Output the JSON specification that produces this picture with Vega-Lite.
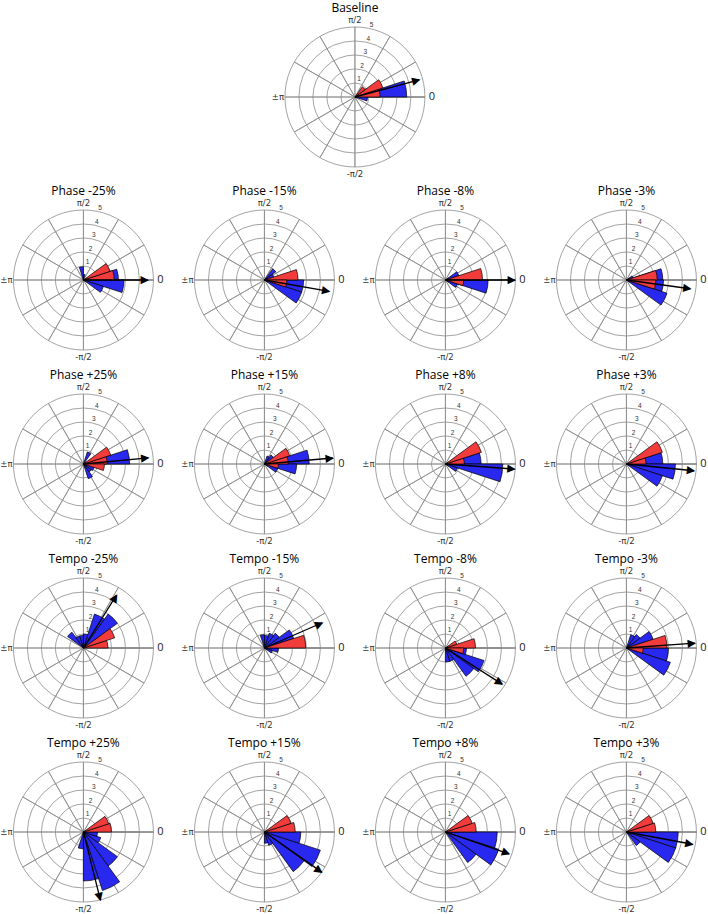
{
  "$schema": "https://vega.github.io/schema/vega-lite/v6.json",
  "background": "white",
  "padding": {"left": 0, "top": 2, "right": 0, "bottom": 0},
  "config": {"view": {"stroke": null}, "font": "Open Sans"},
  "datasets": {
    "grid": [{"k": 1}, {"k": 2}, {"k": 3}, {"k": 4}, {"k": 5}],
    "spokes": [{"ang": 0}, {"ang": 30}, {"ang": 60}, {"ang": 90}, {"ang": 120}, {"ang": 150}, {"ang": 180}, {"ang": 210}, {"ang": 240}, {"ang": 270}, {"ang": 300}, {"ang": 330}],
    "axlabels": [{"t": "0", "ang": 0}, {"t": "π/2", "ang": 90}, {"t": "±π", "ang": 180}, {"t": "-π/2", "ang": 270}],
    "main": [
      {"p": "Baseline", "k": "blue", "a": 0, "b": 18, "r": 3.7},
      {"p": "Baseline", "k": "blue", "a": 18, "b": 36, "r": 1.0},
      {"p": "Baseline", "k": "blue", "a": 342, "b": 360, "r": 0.9},
      {"p": "Baseline", "k": "red", "a": 0, "b": 18, "r": 1.8},
      {"p": "Baseline", "k": "red", "a": 18, "b": 36, "r": 2.1},
      {"p": "Baseline", "k": "red", "a": 36, "b": 54, "r": 0.9},
      {"p": "Baseline", "k": "arrow", "a": 15, "b": 15, "r": 4.75},

      {"p": "Phase -25%", "k": "blue", "a": 0, "b": 18, "r": 2.5},
      {"p": "Phase -25%", "k": "blue", "a": 342, "b": 360, "r": 2.9},
      {"p": "Phase -25%", "k": "blue", "a": 324, "b": 342, "r": 1.5},
      {"p": "Phase -25%", "k": "blue", "a": 90, "b": 108, "r": 0.95},
      {"p": "Phase -25%", "k": "blue", "a": 72, "b": 90, "r": 0.4},
      {"p": "Phase -25%", "k": "red", "a": 0, "b": 18, "r": 2.2},
      {"p": "Phase -25%", "k": "red", "a": 18, "b": 36, "r": 2.0},
      {"p": "Phase -25%", "k": "arrow", "a": 0, "b": 0, "r": 4.6},

      {"p": "Phase -15%", "k": "blue", "a": 342, "b": 360, "r": 2.8},
      {"p": "Phase -15%", "k": "blue", "a": 324, "b": 342, "r": 2.8},
      {"p": "Phase -15%", "k": "blue", "a": 36, "b": 54, "r": 1.0},
      {"p": "Phase -15%", "k": "blue", "a": 18, "b": 36, "r": 0.7},
      {"p": "Phase -15%", "k": "red", "a": 0, "b": 18, "r": 2.4},
      {"p": "Phase -15%", "k": "red", "a": 342, "b": 360, "r": 1.6},
      {"p": "Phase -15%", "k": "arrow", "a": -10, "b": -10, "r": 4.7},

      {"p": "Phase -8%", "k": "blue", "a": 342, "b": 360, "r": 3.05},
      {"p": "Phase -8%", "k": "blue", "a": 18, "b": 36, "r": 1.0},
      {"p": "Phase -8%", "k": "blue", "a": 324, "b": 342, "r": 0.9},
      {"p": "Phase -8%", "k": "red", "a": 0, "b": 18, "r": 2.65},
      {"p": "Phase -8%", "k": "red", "a": 342, "b": 360, "r": 1.3},
      {"p": "Phase -8%", "k": "arrow", "a": 0, "b": 0, "r": 4.95},

      {"p": "Phase -3%", "k": "blue", "a": 0, "b": 18, "r": 2.6},
      {"p": "Phase -3%", "k": "blue", "a": 342, "b": 360, "r": 2.65},
      {"p": "Phase -3%", "k": "blue", "a": 324, "b": 342, "r": 3.05},
      {"p": "Phase -3%", "k": "blue", "a": 18, "b": 36, "r": 0.5},
      {"p": "Phase -3%", "k": "red", "a": 0, "b": 18, "r": 2.2},
      {"p": "Phase -3%", "k": "red", "a": 342, "b": 360, "r": 2.1},
      {"p": "Phase -3%", "k": "arrow", "a": -7.8, "b": -7.8, "r": 4.6},

      {"p": "Phase +25%", "k": "blue", "a": 0, "b": 18, "r": 3.3},
      {"p": "Phase +25%", "k": "blue", "a": 54, "b": 72, "r": 0.9},
      {"p": "Phase +25%", "k": "blue", "a": 288, "b": 306, "r": 1.1},
      {"p": "Phase +25%", "k": "blue", "a": 306, "b": 324, "r": 0.7},
      {"p": "Phase +25%", "k": "blue", "a": 324, "b": 342, "r": 0.8},
      {"p": "Phase +25%", "k": "red", "a": 0, "b": 18, "r": 1.7},
      {"p": "Phase +25%", "k": "red", "a": 18, "b": 36, "r": 2.05},
      {"p": "Phase +25%", "k": "red", "a": 342, "b": 360, "r": 1.5},
      {"p": "Phase +25%", "k": "arrow", "a": 5.4, "b": 5.4, "r": 4.65},

      {"p": "Phase +15%", "k": "blue", "a": 0, "b": 18, "r": 3.2},
      {"p": "Phase +15%", "k": "blue", "a": 342, "b": 360, "r": 2.3},
      {"p": "Phase +15%", "k": "blue", "a": 324, "b": 342, "r": 1.0},
      {"p": "Phase +15%", "k": "blue", "a": 36, "b": 54, "r": 0.8},
      {"p": "Phase +15%", "k": "blue", "a": 54, "b": 72, "r": 0.6},
      {"p": "Phase +15%", "k": "red", "a": 0, "b": 18, "r": 1.7},
      {"p": "Phase +15%", "k": "red", "a": 18, "b": 36, "r": 1.9},
      {"p": "Phase +15%", "k": "red", "a": 342, "b": 360, "r": 1.0},
      {"p": "Phase +15%", "k": "arrow", "a": 5, "b": 5, "r": 4.9},

      {"p": "Phase +8%", "k": "blue", "a": 0, "b": 18, "r": 2.55},
      {"p": "Phase +8%", "k": "blue", "a": 342, "b": 360, "r": 4.1},
      {"p": "Phase +8%", "k": "blue", "a": 324, "b": 342, "r": 0.9},
      {"p": "Phase +8%", "k": "red", "a": 0, "b": 18, "r": 1.35},
      {"p": "Phase +8%", "k": "red", "a": 18, "b": 36, "r": 2.7},
      {"p": "Phase +8%", "k": "arrow", "a": -4.2, "b": -4.2, "r": 4.95},

      {"p": "Phase +3%", "k": "blue", "a": 0, "b": 18, "r": 2.6},
      {"p": "Phase +3%", "k": "blue", "a": 342, "b": 360, "r": 3.5},
      {"p": "Phase +3%", "k": "blue", "a": 324, "b": 342, "r": 2.7},
      {"p": "Phase +3%", "k": "red", "a": 0, "b": 18, "r": 1.4},
      {"p": "Phase +3%", "k": "red", "a": 18, "b": 36, "r": 2.7},
      {"p": "Phase +3%", "k": "arrow", "a": -5.7, "b": -5.7, "r": 4.85},

      {"p": "Tempo -25%", "k": "blue", "a": 18, "b": 36, "r": 1.5},
      {"p": "Tempo -25%", "k": "blue", "a": 36, "b": 54, "r": 3.0},
      {"p": "Tempo -25%", "k": "blue", "a": 54, "b": 72, "r": 2.55},
      {"p": "Tempo -25%", "k": "blue", "a": 72, "b": 90, "r": 1.0},
      {"p": "Tempo -25%", "k": "blue", "a": 90, "b": 108, "r": 0.9},
      {"p": "Tempo -25%", "k": "blue", "a": 108, "b": 126, "r": 0.9},
      {"p": "Tempo -25%", "k": "blue", "a": 126, "b": 144, "r": 1.4},
      {"p": "Tempo -25%", "k": "red", "a": 0, "b": 18, "r": 1.75},
      {"p": "Tempo -25%", "k": "red", "a": 18, "b": 36, "r": 2.35},
      {"p": "Tempo -25%", "k": "arrow", "a": 58, "b": 58, "r": 4.45},

      {"p": "Tempo -15%", "k": "blue", "a": 18, "b": 36, "r": 2.2},
      {"p": "Tempo -15%", "k": "blue", "a": 36, "b": 54, "r": 1.3},
      {"p": "Tempo -15%", "k": "blue", "a": 54, "b": 72, "r": 1.1},
      {"p": "Tempo -15%", "k": "blue", "a": 72, "b": 90, "r": 0.9},
      {"p": "Tempo -15%", "k": "blue", "a": 90, "b": 108, "r": 0.95},
      {"p": "Tempo -15%", "k": "blue", "a": 342, "b": 360, "r": 1.0},
      {"p": "Tempo -15%", "k": "blue", "a": 324, "b": 342, "r": 0.6},
      {"p": "Tempo -15%", "k": "red", "a": 0, "b": 18, "r": 2.95},
      {"p": "Tempo -15%", "k": "arrow", "a": 23.6, "b": 23.6, "r": 4.5},

      {"p": "Tempo -8%", "k": "blue", "a": 324, "b": 342, "r": 2.9},
      {"p": "Tempo -8%", "k": "blue", "a": 306, "b": 324, "r": 2.5},
      {"p": "Tempo -8%", "k": "blue", "a": 288, "b": 306, "r": 1.0},
      {"p": "Tempo -8%", "k": "blue", "a": 270, "b": 288, "r": 1.0},
      {"p": "Tempo -8%", "k": "blue", "a": 342, "b": 360, "r": 1.5},
      {"p": "Tempo -8%", "k": "red", "a": 0, "b": 18, "r": 2.15},
      {"p": "Tempo -8%", "k": "red", "a": 18, "b": 36, "r": 0.85},
      {"p": "Tempo -8%", "k": "red", "a": 342, "b": 360, "r": 1.3},
      {"p": "Tempo -8%", "k": "arrow", "a": -32.5, "b": -32.5, "r": 4.8},

      {"p": "Tempo -3%", "k": "blue", "a": 18, "b": 36, "r": 2.0},
      {"p": "Tempo -3%", "k": "blue", "a": 36, "b": 54, "r": 1.2},
      {"p": "Tempo -3%", "k": "blue", "a": 54, "b": 72, "r": 1.0},
      {"p": "Tempo -3%", "k": "blue", "a": 342, "b": 360, "r": 3.0},
      {"p": "Tempo -3%", "k": "blue", "a": 324, "b": 342, "r": 3.3},
      {"p": "Tempo -3%", "k": "red", "a": 0, "b": 18, "r": 2.9},
      {"p": "Tempo -3%", "k": "red", "a": 342, "b": 360, "r": 1.2},
      {"p": "Tempo -3%", "k": "arrow", "a": 4, "b": 4, "r": 4.9},

      {"p": "Tempo +25%", "k": "blue", "a": 306, "b": 324, "r": 3.0},
      {"p": "Tempo +25%", "k": "blue", "a": 288, "b": 306, "r": 4.4},
      {"p": "Tempo +25%", "k": "blue", "a": 270, "b": 288, "r": 3.5},
      {"p": "Tempo +25%", "k": "blue", "a": 252, "b": 270, "r": 1.2},
      {"p": "Tempo +25%", "k": "blue", "a": 324, "b": 342, "r": 1.3},
      {"p": "Tempo +25%", "k": "blue", "a": 342, "b": 360, "r": 1.0},
      {"p": "Tempo +25%", "k": "red", "a": 0, "b": 18, "r": 2.0},
      {"p": "Tempo +25%", "k": "red", "a": 18, "b": 36, "r": 1.9},
      {"p": "Tempo +25%", "k": "arrow", "a": -76, "b": -76, "r": 5.0},

      {"p": "Tempo +15%", "k": "blue", "a": 324, "b": 342, "r": 4.2},
      {"p": "Tempo +15%", "k": "blue", "a": 306, "b": 324, "r": 3.5},
      {"p": "Tempo +15%", "k": "blue", "a": 342, "b": 360, "r": 2.6},
      {"p": "Tempo +15%", "k": "blue", "a": 288, "b": 306, "r": 1.0},
      {"p": "Tempo +15%", "k": "blue", "a": 270, "b": 288, "r": 0.8},
      {"p": "Tempo +15%", "k": "red", "a": 0, "b": 18, "r": 2.2},
      {"p": "Tempo +15%", "k": "red", "a": 18, "b": 36, "r": 2.0},
      {"p": "Tempo +15%", "k": "arrow", "a": -35, "b": -35, "r": 5.0},

      {"p": "Tempo +8%", "k": "blue", "a": 342, "b": 360, "r": 3.7},
      {"p": "Tempo +8%", "k": "blue", "a": 324, "b": 342, "r": 4.0},
      {"p": "Tempo +8%", "k": "blue", "a": 306, "b": 324, "r": 2.7},
      {"p": "Tempo +8%", "k": "blue", "a": 0, "b": 18, "r": 1.0},
      {"p": "Tempo +8%", "k": "red", "a": 0, "b": 18, "r": 2.2},
      {"p": "Tempo +8%", "k": "red", "a": 18, "b": 36, "r": 2.0},
      {"p": "Tempo +8%", "k": "arrow", "a": -19, "b": -19, "r": 4.8},

      {"p": "Tempo +3%", "k": "blue", "a": 342, "b": 360, "r": 3.7},
      {"p": "Tempo +3%", "k": "blue", "a": 324, "b": 342, "r": 3.7},
      {"p": "Tempo +3%", "k": "blue", "a": 0, "b": 18, "r": 1.5},
      {"p": "Tempo +3%", "k": "blue", "a": 306, "b": 324, "r": 1.2},
      {"p": "Tempo +3%", "k": "red", "a": 0, "b": 18, "r": 2.1},
      {"p": "Tempo +3%", "k": "red", "a": 18, "b": 36, "r": 2.0},
      {"p": "Tempo +3%", "k": "arrow", "a": -10.5, "b": -10.5, "r": 4.8}
    ]
  },
  "center": true,
  "spacing": 6,
  "vconcat": [
    {
      "data": {"name": "main"},
      "transform": [{"filter": "datum.p === 'Baseline'"}],
      "title": {"text": "Baseline", "fontSize": 12, "font": "Open Sans", "fontWeight": "normal", "offset": 1},
      "width": 150,
      "height": 150,
      "layer": [
        {"data": {"name": "grid"}, "mark": {"type": "arc", "filled": false, "stroke": "#8c8c8c", "strokeWidth": 0.8},
         "encoding": {"theta": {"datum": 0, "type": "quantitative", "stack": null, "scale": {"domain": [0, 360], "range": [1.5707963, -4.712389]}}, "theta2": {"datum": 360},
                      "radius": {"field": "k", "type": "quantitative", "stack": null, "scale": {"type": "linear", "domain": [0, 5], "range": [0, 70], "zero": true}}}},
        {"data": {"name": "spokes"}, "mark": {"type": "arc", "filled": false, "stroke": "#8c8c8c", "strokeWidth": 0.8},
         "encoding": {"theta": {"field": "ang", "type": "quantitative", "stack": null}, "theta2": {"field": "ang"}, "radius": {"datum": 5, "type": "quantitative", "stack": null}}},
        {"transform": [{"filter": "datum.k === 'blue'"}], "mark": {"type": "arc", "fill": "#2828ee", "stroke": "black", "strokeWidth": 0.7},
         "encoding": {"theta": {"field": "a", "type": "quantitative", "stack": null}, "theta2": {"field": "b"}, "radius": {"field": "r", "type": "quantitative", "stack": null}}},
        {"transform": [{"filter": "datum.k === 'red'"}], "mark": {"type": "arc", "fill": "#f23b3b", "stroke": "black", "strokeWidth": 0.7},
         "encoding": {"theta": {"field": "a", "type": "quantitative", "stack": null}, "theta2": {"field": "b"}, "radius": {"field": "r", "type": "quantitative", "stack": null}}},
        {"transform": [{"filter": "datum.k === 'arrow'"}], "mark": {"type": "arc", "filled": false, "stroke": "black", "strokeWidth": 1.3},
         "encoding": {"theta": {"field": "a", "type": "quantitative", "stack": null}, "theta2": {"field": "b"}, "radius": {"field": "r", "type": "quantitative", "stack": null}}},
        {"transform": [{"filter": "datum.k === 'arrow'"}], "mark": {"type": "text", "text": "▶", "font": "DejaVu Sans", "fontSize": 11, "color": "black", "align": "center", "baseline": "middle", "radiusOffset": -3},
         "encoding": {"theta": {"field": "a", "type": "quantitative", "stack": null}, "radius": {"field": "r", "type": "quantitative", "stack": null},
                      "angle": {"field": "a", "type": "quantitative", "scale": {"domain": [0, 360], "range": [0, -360]}}}},
        {"data": {"name": "grid"}, "mark": {"type": "text", "fontSize": 6.5, "font": "Liberation Sans", "color": "#333", "align": "center", "baseline": "middle", "radiusOffset": 4},
         "encoding": {"theta": {"datum": 77, "type": "quantitative", "stack": null}, "radius": {"field": "k", "type": "quantitative", "stack": null}, "text": {"field": "k"}}},
        {"data": {"name": "axlabels"}, "transform": [{"filter": "datum.t !== '0'"}], "mark": {"type": "text", "fontSize": 8.5, "font": "DejaVu Sans", "color": "#333", "align": "center", "baseline": "middle", "radiusOffset": 7},
         "encoding": {"theta": {"field": "ang", "type": "quantitative", "stack": null}, "radius": {"datum": 5, "type": "quantitative", "stack": null}, "text": {"field": "t"}}},
        {"data": {"name": "axlabels"}, "transform": [{"filter": "datum.t === '0'"}], "mark": {"type": "text", "fontSize": 11, "font": "Open Sans", "color": "#222", "align": "center", "baseline": "middle", "radiusOffset": 7},
         "encoding": {"theta": {"field": "ang", "type": "quantitative", "stack": null}, "radius": {"datum": 5, "type": "quantitative", "stack": null}, "text": {"field": "t"}}}
      ]
    },
    {
      "data": {"name": "main"},
      "transform": [{"filter": "datum.p !== 'Baseline'"}],
      "columns": 4,
      "bounds": "flush",
      "spacing": {"column": 31, "row": 34},
      "facet": {"field": "p", "type": "nominal", "title": null,
        "sort": ["Phase -25%", "Phase -15%", "Phase -8%", "Phase -3%", "Phase +25%", "Phase +15%", "Phase +8%", "Phase +3%", "Tempo -25%", "Tempo -15%", "Tempo -8%", "Tempo -3%", "Tempo +25%", "Tempo +15%", "Tempo +8%", "Tempo +3%"],
        "header": {"labelFontSize": 12, "labelFont": "Open Sans", "labelColor": "black", "labelPadding": 1}},
      "spec": {
        "width": 150,
        "height": 150,
        "layer": [
          {"data": {"name": "grid"}, "mark": {"type": "arc", "filled": false, "stroke": "#8c8c8c", "strokeWidth": 0.8},
           "encoding": {"theta": {"datum": 0, "type": "quantitative", "stack": null, "scale": {"domain": [0, 360], "range": [1.5707963, -4.712389]}}, "theta2": {"datum": 360},
                        "radius": {"field": "k", "type": "quantitative", "stack": null, "scale": {"type": "linear", "domain": [0, 5], "range": [0, 70], "zero": true}}}},
          {"data": {"name": "spokes"}, "mark": {"type": "arc", "filled": false, "stroke": "#8c8c8c", "strokeWidth": 0.8},
           "encoding": {"theta": {"field": "ang", "type": "quantitative", "stack": null}, "theta2": {"field": "ang"}, "radius": {"datum": 5, "type": "quantitative", "stack": null}}},
          {"transform": [{"filter": "datum.k === 'blue'"}], "mark": {"type": "arc", "fill": "#2828ee", "stroke": "black", "strokeWidth": 0.7},
           "encoding": {"theta": {"field": "a", "type": "quantitative", "stack": null}, "theta2": {"field": "b"}, "radius": {"field": "r", "type": "quantitative", "stack": null}}},
          {"transform": [{"filter": "datum.k === 'red'"}], "mark": {"type": "arc", "fill": "#f23b3b", "stroke": "black", "strokeWidth": 0.7},
           "encoding": {"theta": {"field": "a", "type": "quantitative", "stack": null}, "theta2": {"field": "b"}, "radius": {"field": "r", "type": "quantitative", "stack": null}}},
          {"transform": [{"filter": "datum.k === 'arrow'"}], "mark": {"type": "arc", "filled": false, "stroke": "black", "strokeWidth": 1.3},
           "encoding": {"theta": {"field": "a", "type": "quantitative", "stack": null}, "theta2": {"field": "b"}, "radius": {"field": "r", "type": "quantitative", "stack": null}}},
          {"transform": [{"filter": "datum.k === 'arrow'"}], "mark": {"type": "text", "text": "▶", "font": "DejaVu Sans", "fontSize": 11, "color": "black", "align": "center", "baseline": "middle", "radiusOffset": -3},
           "encoding": {"theta": {"field": "a", "type": "quantitative", "stack": null}, "radius": {"field": "r", "type": "quantitative", "stack": null},
                        "angle": {"field": "a", "type": "quantitative", "scale": {"domain": [0, 360], "range": [0, -360]}}}},
          {"data": {"name": "grid"}, "mark": {"type": "text", "fontSize": 6.5, "font": "Liberation Sans", "color": "#333", "align": "center", "baseline": "middle", "radiusOffset": 4},
           "encoding": {"theta": {"datum": 77, "type": "quantitative", "stack": null}, "radius": {"field": "k", "type": "quantitative", "stack": null}, "text": {"field": "k"}}},
          {"data": {"name": "axlabels"}, "transform": [{"filter": "datum.t !== '0'"}], "mark": {"type": "text", "fontSize": 8.5, "font": "DejaVu Sans", "color": "#333", "align": "center", "baseline": "middle", "radiusOffset": 7},
           "encoding": {"theta": {"field": "ang", "type": "quantitative", "stack": null}, "radius": {"datum": 5, "type": "quantitative", "stack": null}, "text": {"field": "t"}}},
          {"data": {"name": "axlabels"}, "transform": [{"filter": "datum.t === '0'"}], "mark": {"type": "text", "fontSize": 11, "font": "Open Sans", "color": "#222", "align": "center", "baseline": "middle", "radiusOffset": 7},
           "encoding": {"theta": {"field": "ang", "type": "quantitative", "stack": null}, "radius": {"datum": 5, "type": "quantitative", "stack": null}, "text": {"field": "t"}}}
        ]
      }
    }
  ]
}
